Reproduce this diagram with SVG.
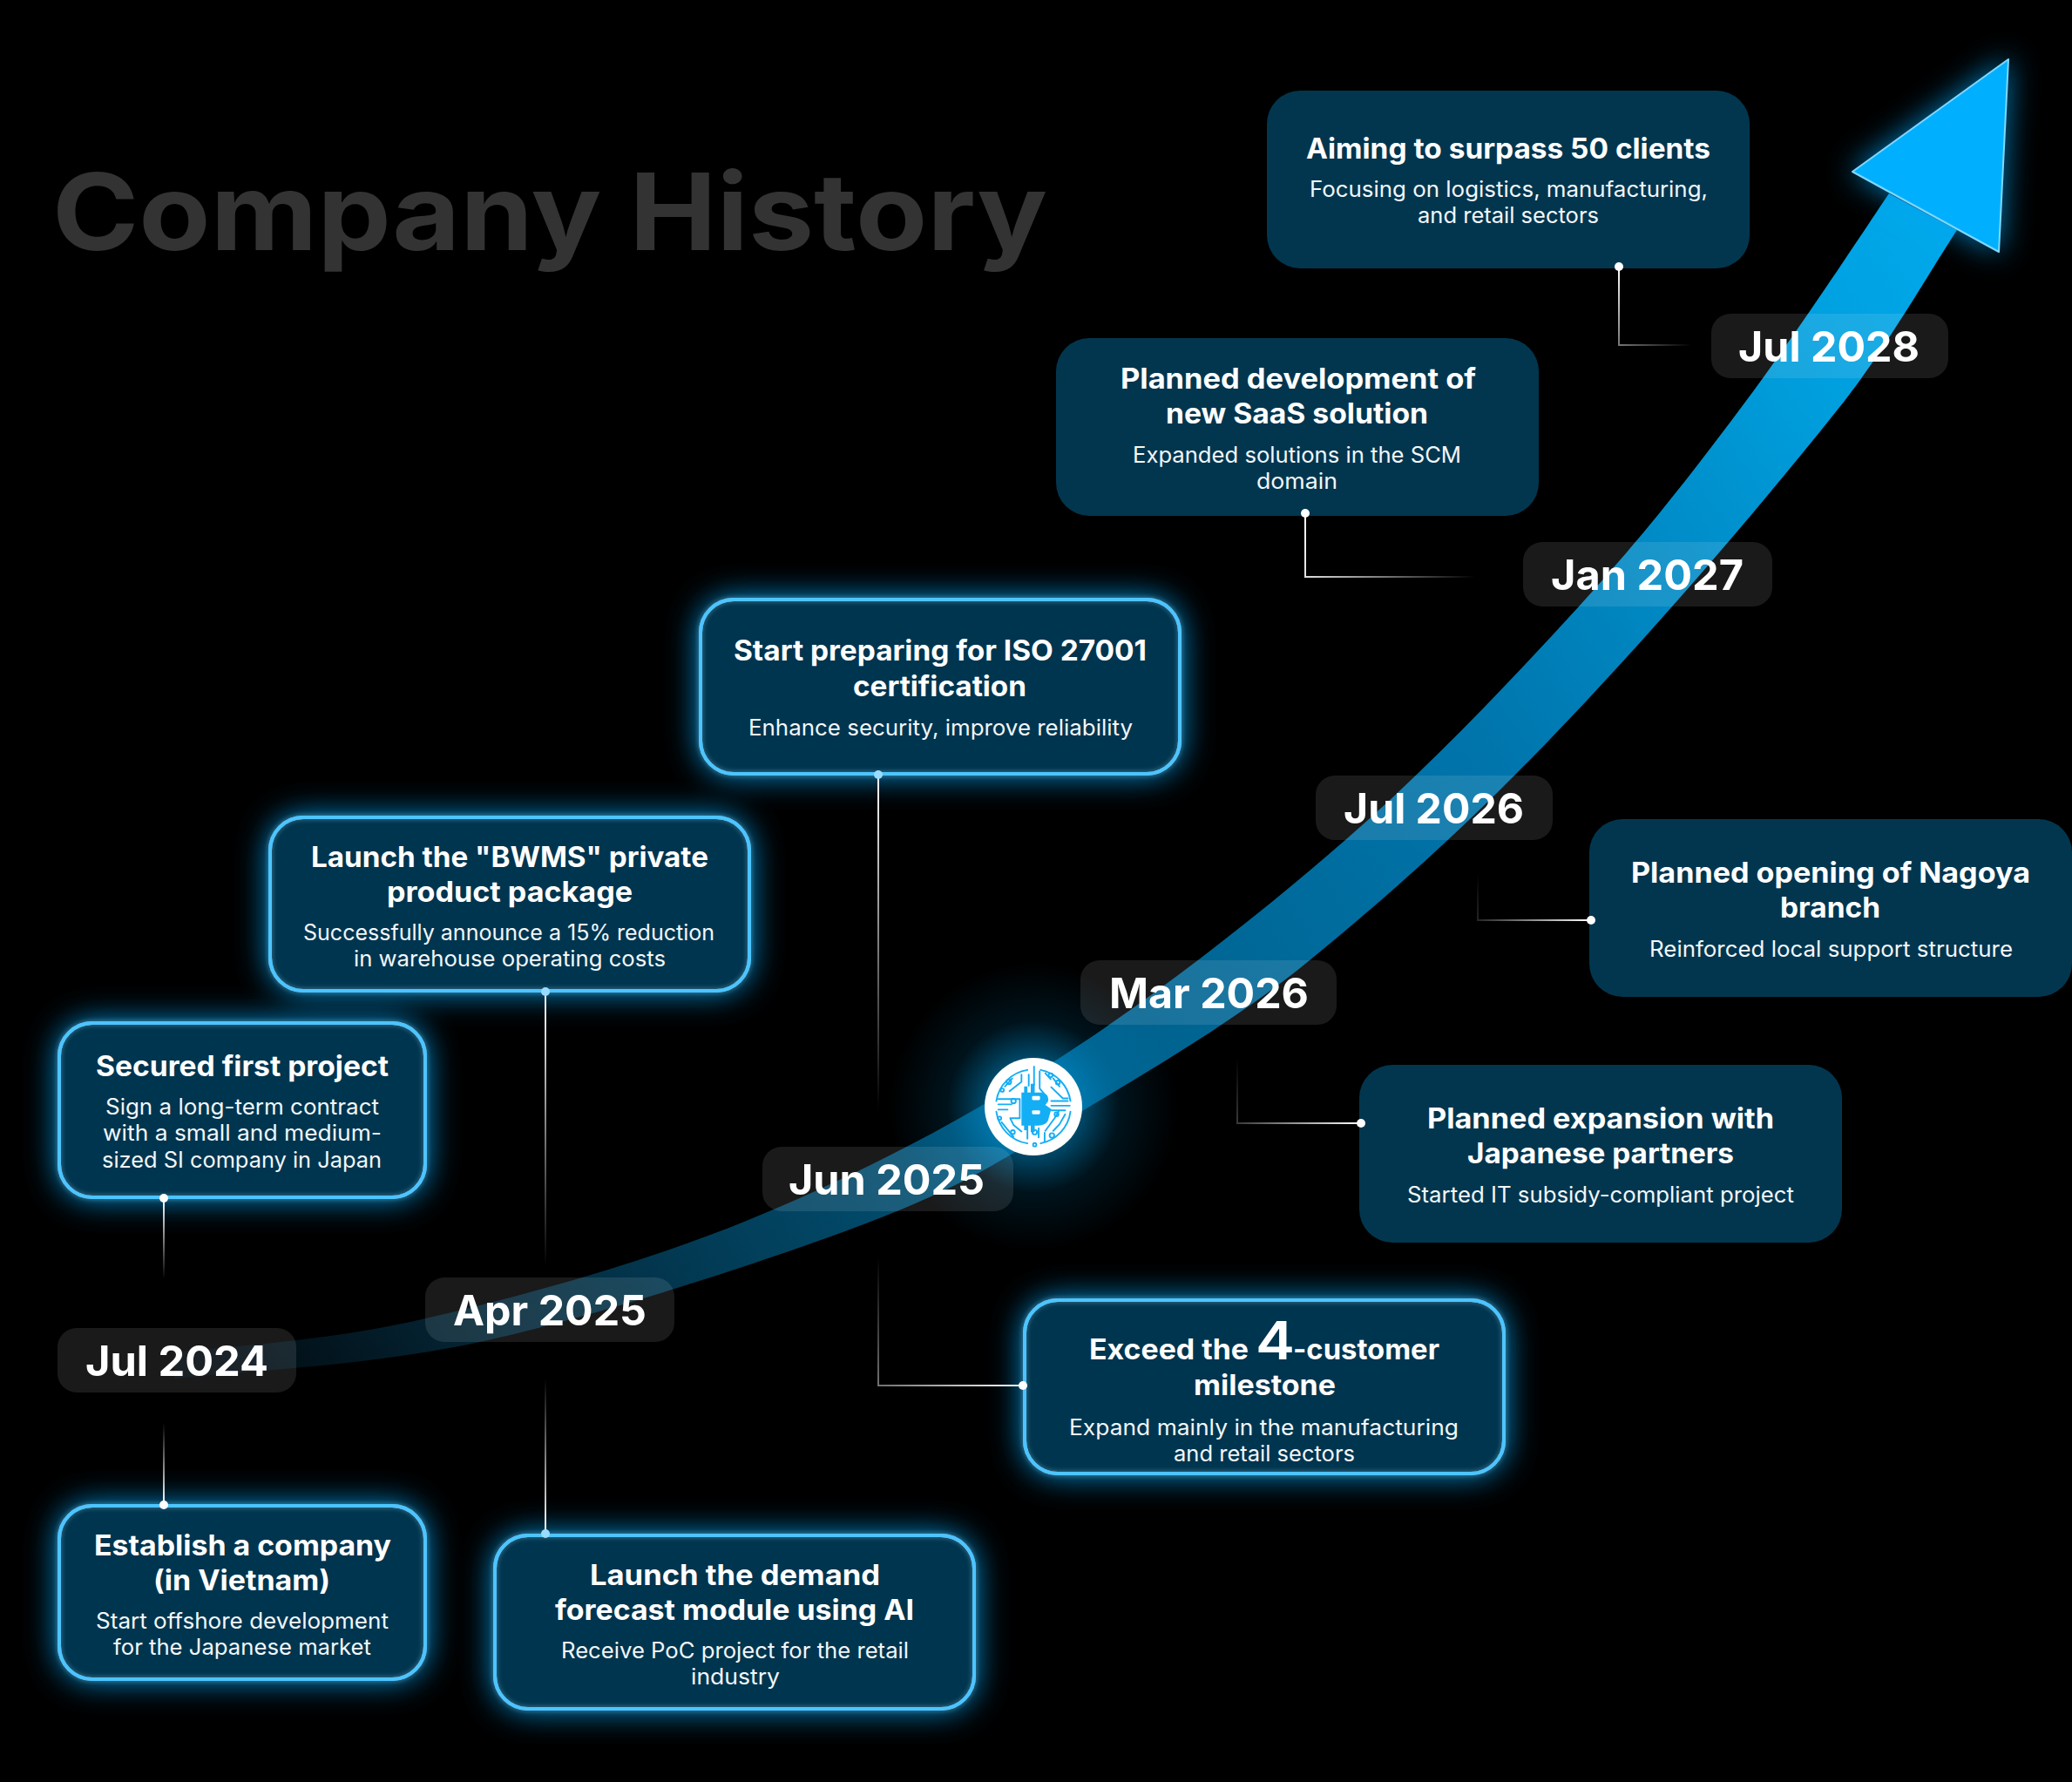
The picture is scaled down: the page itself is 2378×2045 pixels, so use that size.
<svg xmlns="http://www.w3.org/2000/svg" width="2378" height="2045" viewBox="0 0 2378 2045">
<style>
text{font-family:Inter,"Liberation Sans",sans-serif;fill:#fff}
.h{font-size:32px;font-weight:700}
.s{font-size:25px;font-weight:400;fill:#f2f7fa}
.p{font-size:48px;font-weight:700}
.card{fill:#02364f}
.edge{fill:none;stroke:#4dc4ff;stroke-width:4}
.halo{fill:none;stroke:#a8e4ff;stroke-width:8;opacity:.22;filter:url(#soft)}
.pill{fill:#fff;fill-opacity:.1}
.ln{fill:none;stroke-width:2}
.d{fill:#fff}
.db{fill:#9adcff}
.ci{fill:none;stroke:#14aef5;stroke-width:5;stroke-linecap:round;stroke-linejoin:round}
.cf{fill:#14aef5}
</style>
<defs>
<filter id="glow" x="-30%" y="-50%" width="160%" height="200%"><feGaussianBlur in="SourceAlpha" stdDeviation="18"/><feComponentTransfer result="a"><feFuncA type="linear" slope="1.05"/></feComponentTransfer><feFlood flood-color="#00a4f5" flood-opacity=".85"/><feComposite in2="a" operator="in"/><feMerge><feMergeNode/><feMergeNode in="SourceGraphic"/></feMerge></filter>
<filter id="soft" x="-5%" y="-8%" width="110%" height="116%"><feGaussianBlur stdDeviation="2"/></filter>
<filter id="tri" x="-30%" y="-30%" width="160%" height="160%"><feGaussianBlur in="SourceAlpha" stdDeviation="17"/><feComponentTransfer result="a"><feFuncA type="linear" slope="1"/></feComponentTransfer><feFlood flood-color="#00a4f5" flood-opacity=".75"/><feComposite in2="a" operator="in"/><feMerge><feMergeNode/><feMergeNode in="SourceGraphic"/></feMerge></filter>
<linearGradient id="rib" gradientUnits="userSpaceOnUse" x1="250" y1="1560" x2="2200" y2="240">
<stop offset="0" stop-color="#010a10"/><stop offset=".09" stop-color="#04202e"/><stop offset=".25" stop-color="#02405c"/><stop offset=".455" stop-color="#00628e"/><stop offset=".68" stop-color="#0075ac"/><stop offset=".91" stop-color="#009edd"/><stop offset="1" stop-color="#00a8ea"/>
</linearGradient>
<radialGradient id="lg"><stop offset=".34" stop-color="#0090d0" stop-opacity=".5"/><stop offset=".6" stop-color="#0088c8" stop-opacity=".14"/><stop offset="1" stop-color="#0088c8" stop-opacity="0"/></radialGradient>
<linearGradient id="c1" gradientUnits="userSpaceOnUse" x1="188" y1="1375" x2="188" y2="1468"><stop offset="0" stop-color="#fff"/><stop offset="1" stop-color="#fff" stop-opacity="0"/></linearGradient>
<linearGradient id="c2" gradientUnits="userSpaceOnUse" x1="188" y1="1727" x2="188" y2="1633"><stop offset="0" stop-color="#fff"/><stop offset="1" stop-color="#fff" stop-opacity="0"/></linearGradient>
<linearGradient id="c3" gradientUnits="userSpaceOnUse" x1="626" y1="1138" x2="626" y2="1453"><stop offset="0" stop-color="#fff"/><stop offset="1" stop-color="#fff" stop-opacity="0"/></linearGradient>
<linearGradient id="c4" gradientUnits="userSpaceOnUse" x1="626" y1="1760" x2="626" y2="1582"><stop offset="0" stop-color="#fff"/><stop offset="1" stop-color="#fff" stop-opacity="0"/></linearGradient>
<linearGradient id="c5" gradientUnits="userSpaceOnUse" x1="1008" y1="889" x2="1008" y2="1274"><stop offset="0" stop-color="#fff"/><stop offset="1" stop-color="#fff" stop-opacity="0"/></linearGradient>
<linearGradient id="c6" gradientUnits="userSpaceOnUse" x1="1175" y1="1590" x2="1008" y2="1442"><stop offset="0" stop-color="#fff"/><stop offset="1" stop-color="#fff" stop-opacity="0"/></linearGradient>
<linearGradient id="c7" gradientUnits="userSpaceOnUse" x1="1561" y1="1289" x2="1420" y2="1214"><stop offset="0" stop-color="#fff"/><stop offset="1" stop-color="#fff" stop-opacity="0"/></linearGradient>
<linearGradient id="c8" gradientUnits="userSpaceOnUse" x1="1826" y1="1056" x2="1696" y2="1003"><stop offset="0" stop-color="#fff"/><stop offset="1" stop-color="#fff" stop-opacity="0"/></linearGradient>
<linearGradient id="c9" gradientUnits="userSpaceOnUse" x1="1498" y1="589" x2="1693" y2="662"><stop offset="0" stop-color="#fff"/><stop offset="1" stop-color="#fff" stop-opacity="0"/></linearGradient>
<linearGradient id="c10" gradientUnits="userSpaceOnUse" x1="1858" y1="306" x2="1941" y2="396"><stop offset="0" stop-color="#fff"/><stop offset="1" stop-color="#fff" stop-opacity="0"/></linearGradient>
</defs>
<rect width="2378" height="2045" fill="#000"/>
<text id="title" x="60" y="287" font-size="122" font-weight="700" textLength="1142" lengthAdjust="spacingAndGlyphs" style="fill:#333">Company History</text>

<g id="growth-arrow">
<path d="M200 1582 C260 1575 426 1568 560 1538 C694 1508 890 1444 1004 1400 C1118 1356 1159 1325 1242 1275 C1325 1225 1423 1168 1503 1102 C1586 1034 1654 974 1738 890 C1868 760 2017 586 2117 460 C2161 405 2224 297 2246 264 L2168 222 C2141 262 2063 381 2004 460 C1945 539 1889 612 1812 696 C1735 780 1644 877 1544 964 C1444 1051 1324 1145 1210 1218 C1096 1291 981 1350 859 1400 C737 1450 590 1490 480 1515 C370 1540 247 1546 200 1552 Z" fill="url(#rib)"/>
<path id="arrow-head" d="M2305 68 L2126 197 L2294 289 Z" fill="#00b0ff" stroke="#7fd8ff" stroke-width="2" stroke-linejoin="round" filter="url(#tri)"/>
</g>

<g id="logo">
<circle cx="1186" cy="1270" r="165" fill="url(#lg)"/>
<circle cx="1186" cy="1270" r="56" fill="#fff"/>
<g transform="translate(1186 1270) scale(.38) translate(-136 -135)">
<path class="cf" d="M100 92H108V74H118V92H128V66H140V92H160Q186 96 180 120L172 130L190 142L180 178Q172 192 150 192H140V212H128V192H118V206H108V192H100Z"/>
<rect x="132" y="103" width="24" height="12" rx="3" fill="#fff"/><rect x="132" y="146" width="24" height="12" rx="3" fill="#fff"/>
<path class="ci" d="M118 24A113 113 0 0 0 24 118M24 150A113 113 0 0 0 118 246M158 246A113 113 0 0 0 248 150M248 118A113 113 0 0 0 158 24"/>
<path class="ci" d="M122 38V72M138 14V70M155 28V80L170 98M172 34L188 52M196 50L215 74M190 76L225 110H240M190 118H240M190 132H246M190 146H232M214 146L200 170L172 208M232 158L215 188L196 208"/>
<path class="ci" d="M100 38V60L64 88M72 50L50 74M30 112H95V170H66L76 190L100 210M30 128H70M30 144H58M40 182L76 226M118 170V232M152 200V228M170 214V240"/>
<circle class="ci" cx="62" cy="60" r="7"/><circle class="ci" cx="76" cy="118" r="7"/><circle class="ci" cx="42" cy="85" r="5"/><circle class="ci" cx="188" cy="40" r="6"/><circle class="ci" cx="210" cy="62" r="6"/><circle class="ci" cx="206" cy="158" r="6"/><circle class="ci" cx="140" cy="212" r="7"/><circle class="ci" cx="140" cy="250" r="5"/><circle class="ci" cx="192" cy="222" r="7"/><circle class="ci" cx="74" cy="212" r="6"/><circle class="ci" cx="34" cy="170" r="5"/>
</g>
</g>

<g id="pill-jul-2024"><rect class="pill" x="66" y="1524" width="274" height="74" rx="22"/><text class="p" x="98" y="1579" textLength="210" lengthAdjust="spacingAndGlyphs">Jul 2024</text></g>
<g id="pill-apr-2025"><rect class="pill" x="488" y="1466" width="286" height="74" rx="22"/><text class="p" x="520" y="1521" textLength="222" lengthAdjust="spacingAndGlyphs">Apr 2025</text></g>
<g id="pill-jun-2025"><rect class="pill" x="875" y="1316" width="288" height="74" rx="22"/><text class="p" x="905" y="1371" textLength="225" lengthAdjust="spacingAndGlyphs">Jun 2025</text></g>
<g id="pill-mar-2026"><rect class="pill" x="1240" y="1102" width="294" height="74" rx="22"/><text class="p" x="1273" y="1157" textLength="229" lengthAdjust="spacingAndGlyphs">Mar 2026</text></g>
<g id="pill-jul-2026"><rect class="pill" x="1510" y="890" width="272" height="74" rx="22"/><text class="p" x="1542" y="945" textLength="207" lengthAdjust="spacingAndGlyphs">Jul 2026</text></g>
<g id="pill-jan-2027"><rect class="pill" x="1748" y="622" width="286" height="74" rx="22"/><text class="p" x="1780" y="677" textLength="221" lengthAdjust="spacingAndGlyphs">Jan 2027</text></g>
<g id="pill-jul-2028"><rect class="pill" x="1964" y="360" width="272" height="74" rx="22"/><text class="p" x="1995" y="415" textLength="208" lengthAdjust="spacingAndGlyphs">Jul 2028</text></g>

<g id="card-aiming"><rect class="card" x="1454" y="104" width="554" height="204" rx="38"/>
<text class="h" x="1499" y="182" textLength="464" lengthAdjust="spacingAndGlyphs">Aiming to surpass 50 clients</text>
<text class="s" x="1503" y="226" textLength="457" lengthAdjust="spacingAndGlyphs">Focusing on logistics, manufacturing,</text>
<text class="s" x="1627" y="256" textLength="208" lengthAdjust="spacingAndGlyphs">and retail sectors</text></g>

<g id="card-saas"><rect class="card" x="1212" y="388" width="554" height="204" rx="38"/>
<text class="h" x="1286" y="446" textLength="408" lengthAdjust="spacingAndGlyphs">Planned development of</text>
<text class="h" x="1338" y="486" textLength="301" lengthAdjust="spacingAndGlyphs">new SaaS solution</text>
<text class="s" x="1300" y="531" textLength="377" lengthAdjust="spacingAndGlyphs">Expanded solutions in the SCM</text>
<text class="s" x="1442" y="561" textLength="93" lengthAdjust="spacingAndGlyphs">domain</text></g>

<g id="card-nagoya"><rect class="card" x="1824" y="940" width="554" height="204" rx="38"/>
<text class="h" x="1872" y="1013" textLength="458" lengthAdjust="spacingAndGlyphs">Planned opening of Nagoya</text>
<text class="h" x="2043" y="1053" textLength="115" lengthAdjust="spacingAndGlyphs">branch</text>
<text class="s" x="1893" y="1098" textLength="417" lengthAdjust="spacingAndGlyphs">Reinforced local support structure</text></g>

<g id="card-partners"><rect class="card" x="1560" y="1222" width="554" height="204" rx="38"/>
<text class="h" x="1638" y="1295" textLength="398" lengthAdjust="spacingAndGlyphs">Planned expansion with</text>
<text class="h" x="1684" y="1335" textLength="306" lengthAdjust="spacingAndGlyphs">Japanese partners</text>
<text class="s" x="1615" y="1380" textLength="444" lengthAdjust="spacingAndGlyphs">Started IT subsidy-compliant project</text></g>

<g id="card-iso"><rect class="card" x="804" y="688" width="550" height="200" rx="38" stroke="#4dc4ff" stroke-width="4" filter="url(#glow)"/><rect class="halo" x="804" y="688" width="550" height="200" rx="38"/><rect class="edge" x="804" y="688" width="550" height="200" rx="38"/>
<text class="h" x="842" y="758" textLength="474" lengthAdjust="spacingAndGlyphs">Start preparing for ISO 27001</text>
<text class="h" x="979" y="799" textLength="199" lengthAdjust="spacingAndGlyphs">certification</text>
<text class="s" x="859" y="844" textLength="441" lengthAdjust="spacingAndGlyphs">Enhance security, improve reliability</text></g>

<g id="card-bwms"><rect class="card" x="310" y="938" width="550" height="199" rx="38" stroke="#4dc4ff" stroke-width="4" filter="url(#glow)"/><rect class="halo" x="310" y="938" width="550" height="199" rx="38"/><rect class="edge" x="310" y="938" width="550" height="199" rx="38"/>
<text class="h" x="357" y="995" textLength="456" lengthAdjust="spacingAndGlyphs">Launch the "BWMS" private</text>
<text class="h" x="444" y="1035" textLength="282" lengthAdjust="spacingAndGlyphs">product package</text>
<text class="s" x="348" y="1079" textLength="472" lengthAdjust="spacingAndGlyphs">Successfully announce a 15% reduction</text>
<text class="s" x="406" y="1109" textLength="358" lengthAdjust="spacingAndGlyphs">in warehouse operating costs</text></g>

<g id="card-secured"><rect class="card" x="68" y="1174" width="420" height="200" rx="38" stroke="#4dc4ff" stroke-width="4" filter="url(#glow)"/><rect class="halo" x="68" y="1174" width="420" height="200" rx="38"/><rect class="edge" x="68" y="1174" width="420" height="200" rx="38"/>
<text class="h" x="110" y="1235" textLength="336" lengthAdjust="spacingAndGlyphs">Secured first project</text>
<text class="s" x="121" y="1279" textLength="314" lengthAdjust="spacingAndGlyphs">Sign a long-term contract</text>
<text class="s" x="118" y="1309" textLength="320" lengthAdjust="spacingAndGlyphs">with a small and medium-</text>
<text class="s" x="117" y="1340" textLength="321" lengthAdjust="spacingAndGlyphs">sized SI company in Japan</text></g>

<g id="card-establish"><rect class="card" x="68" y="1728" width="420" height="199" rx="38" stroke="#4dc4ff" stroke-width="4" filter="url(#glow)"/><rect class="halo" x="68" y="1728" width="420" height="199" rx="38"/><rect class="edge" x="68" y="1728" width="420" height="199" rx="38"/>
<text class="h" x="108" y="1785" textLength="341" lengthAdjust="spacingAndGlyphs">Establish a company</text>
<text class="h" x="176" y="1825" textLength="203" lengthAdjust="spacingAndGlyphs">(in Vietnam)</text>
<text class="s" x="110" y="1869" textLength="336" lengthAdjust="spacingAndGlyphs">Start offshore development</text>
<text class="s" x="130" y="1899" textLength="296" lengthAdjust="spacingAndGlyphs">for the Japanese market</text></g>

<g id="card-demand"><rect class="card" x="568" y="1762" width="550" height="199" rx="38" stroke="#4dc4ff" stroke-width="4" filter="url(#glow)"/><rect class="halo" x="568" y="1762" width="550" height="199" rx="38"/><rect class="edge" x="568" y="1762" width="550" height="199" rx="38"/>
<text class="h" x="677" y="1819" textLength="333" lengthAdjust="spacingAndGlyphs">Launch the demand</text>
<text class="h" x="637" y="1859" textLength="412" lengthAdjust="spacingAndGlyphs">forecast module using AI</text>
<text class="s" x="644" y="1903" textLength="399" lengthAdjust="spacingAndGlyphs">Receive PoC project for the retail</text>
<text class="s" x="793" y="1933" textLength="102" lengthAdjust="spacingAndGlyphs">industry</text></g>

<g id="card-exceed"><rect class="card" x="1176" y="1492" width="550" height="199" rx="38" stroke="#4dc4ff" stroke-width="4" filter="url(#glow)"/><rect class="halo" x="1176" y="1492" width="550" height="199" rx="38"/><rect class="edge" x="1176" y="1492" width="550" height="199" rx="38"/>
<text class="h" y="1560"><tspan x="1250" textLength="191" lengthAdjust="spacingAndGlyphs">Exceed the </tspan><tspan x="1441" font-size="60" font-weight="600" textLength="45" lengthAdjust="spacingAndGlyphs">4</tspan><tspan x="1484" textLength="168" lengthAdjust="spacingAndGlyphs">-customer</tspan></text>
<text class="h" x="1370" y="1601" textLength="163" lengthAdjust="spacingAndGlyphs">milestone</text>
<text class="s" x="1227" y="1647" textLength="447" lengthAdjust="spacingAndGlyphs">Expand mainly in the manufacturing</text>
<text class="s" x="1347" y="1677" textLength="208" lengthAdjust="spacingAndGlyphs">and retail sectors</text></g>

<g id="connectors">
<path class="ln" stroke="url(#c1)" d="M188 1375V1468"/><circle class="d" cx="188" cy="1375" r="5"/>
<path class="ln" stroke="url(#c2)" d="M188 1633V1727"/><circle class="d" cx="188" cy="1727" r="5"/>
<path class="ln" stroke="url(#c3)" d="M626 1138V1453"/><circle class="db" cx="626" cy="1138" r="5"/>
<path class="ln" stroke="url(#c4)" d="M626 1582V1760"/><circle class="db" cx="626" cy="1760" r="5"/>
<path class="ln" stroke="url(#c5)" d="M1008 889V1274"/><circle class="db" cx="1008" cy="889" r="5"/>
<path class="ln" stroke="url(#c6)" d="M1008 1442V1590H1175"/><circle class="d" cx="1174" cy="1590" r="5"/>
<path class="ln" stroke="url(#c7)" d="M1420 1214V1289H1561"/><circle class="d" cx="1562" cy="1289" r="5"/>
<path class="ln" stroke="url(#c8)" d="M1696 1003V1056H1826"/><circle class="d" cx="1826" cy="1056" r="5"/>
<path class="ln" stroke="url(#c9)" d="M1498 589V662H1693"/><circle class="d" cx="1498" cy="589" r="5"/>
<path class="ln" stroke="url(#c10)" d="M1858 306V396H1941"/><circle class="d" cx="1858" cy="306" r="5"/>
</g>
</svg>
